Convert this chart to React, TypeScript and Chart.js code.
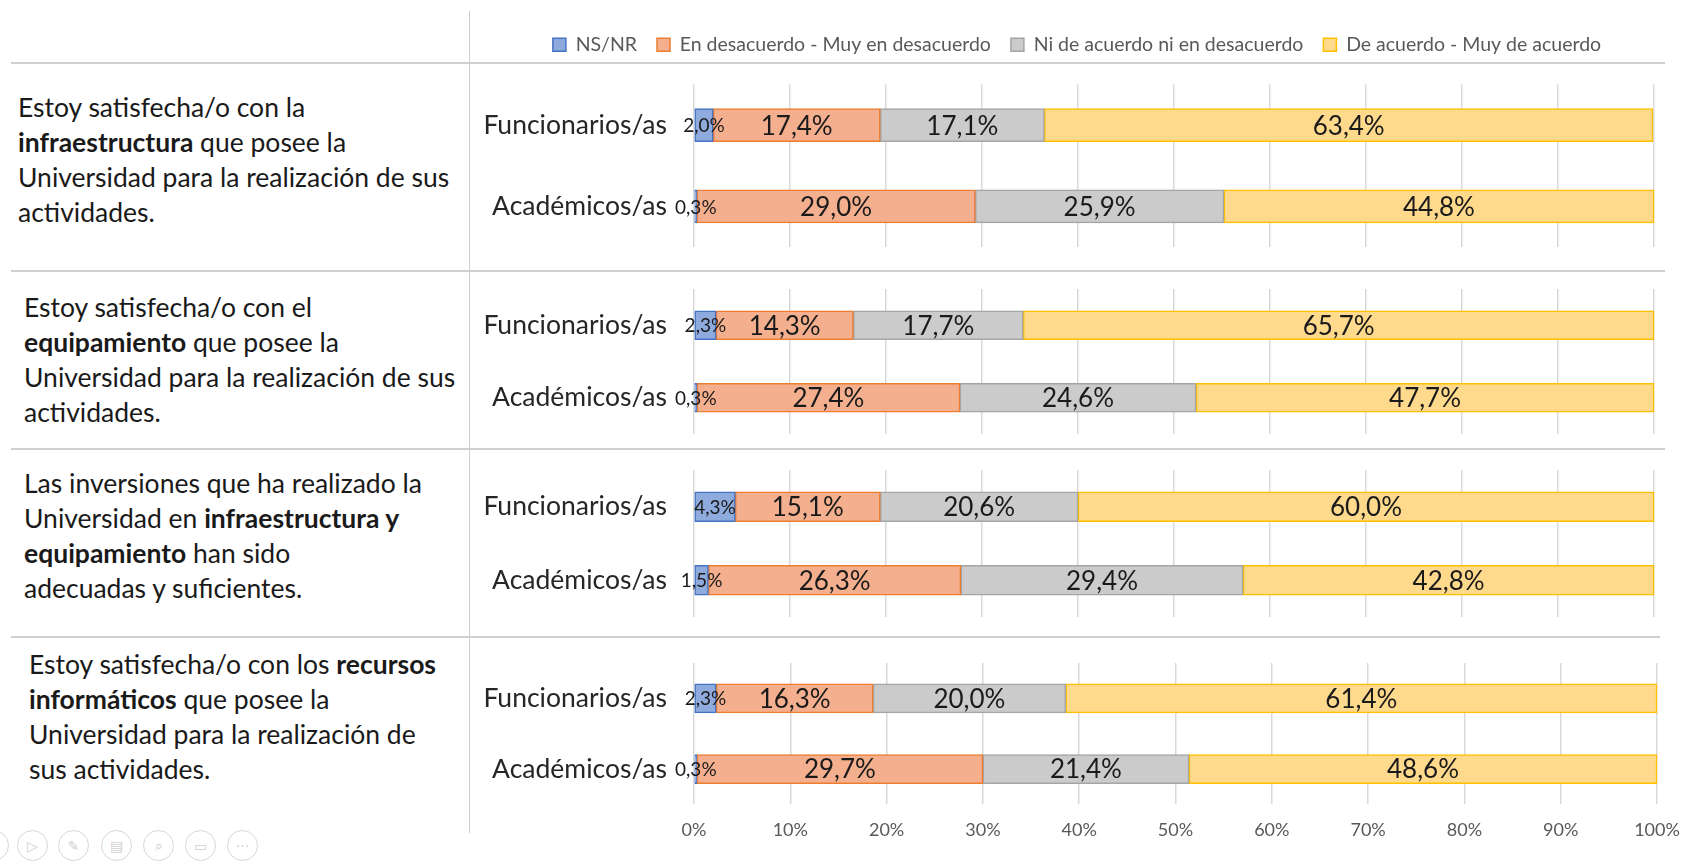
import React, { useEffect, useRef } from "react";
import { Chart, registerables } from "chart.js";

Chart.register(...registerables);

// ---------- DATA ----------
const groups = ["Funcionarios/as", "Académicos/as"];
const seriesNames = [
  "NS/NR",
  "En desacuerdo - Muy en desacuerdo",
  "Ni de acuerdo ni en desacuerdo",
  "De acuerdo - Muy de acuerdo",
];
const xTickValues = [0, 10, 20, 30, 40, 50, 60, 70, 80, 90, 100];

// Question 1: infraestructura
const q1NsNr = [2.0, 0.3];
const q1Desacuerdo = [17.4, 29.0];
const q1Neutral = [17.1, 25.9];
const q1Acuerdo = [63.4, 44.8];
// Question 2: equipamiento
const q2NsNr = [2.3, 0.3];
const q2Desacuerdo = [14.3, 27.4];
const q2Neutral = [17.7, 24.6];
const q2Acuerdo = [65.7, 47.7];
// Question 3: inversiones
const q3NsNr = [4.3, 1.5];
const q3Desacuerdo = [15.1, 26.3];
const q3Neutral = [20.6, 29.4];
const q3Acuerdo = [60.0, 42.8];
// Question 4: recursos informáticos
const q4NsNr = [2.3, 0.3];
const q4Desacuerdo = [16.3, 29.7];
const q4Neutral = [20.0, 21.4];
const q4Acuerdo = [61.4, 48.6];

// ---------- STYLE ----------
const fills = ["#8FAADC", "#F4B08E", "#CBCBCB", "#FFD98C"];
const borders = ["#4472C4", "#ED7D31", "#A5A5A5", "#FFC000"];
const FONT = "Lato, 'Open Sans', sans-serif";

const fmt = (v: number) => v.toFixed(1).replace(".", ",") + "%";

const labelPlugin = {
  id: "barLabels",
  afterDatasetsDraw(chart: any) {
    const ctx = chart.ctx;
    chart.data.datasets.forEach((ds: any, di: number) => {
      const meta = chart.getDatasetMeta(di);
      meta.data.forEach((el: any, i: number) => {
        const v = ds.data[i];
        const p = el.getProps(["x", "y", "base"], true);
        ctx.save();
        ctx.font = `${di === 0 ? 19 : 26}px ${FONT}`;
        ctx.fillStyle = "#1a1a1a";
        ctx.textAlign = "center";
        ctx.textBaseline = "middle";
        ctx.fillText(fmt(v), (p.x + p.base) / 2, p.y + 1);
        ctx.restore();
      });
    });
  },
};

const LEGEND_GAP = 20;
const LEGEND_SHIFT = 15;
const legendSpacer = {
  id: "legendSpacer",
  beforeUpdate(chart: any) {
    const lg = chart.legend;
    if (lg && !lg.__patched) {
      const orig = lg.fit;
      lg.fit = function () {
        orig.call(this);
        if (this.options && this.options.display) this.height += LEGEND_GAP;
      };
      lg.__patched = true;
    }
  },
  afterLayout(chart: any) {
    const lg = chart.legend;
    if (lg && lg.options && lg.options.display) {
      lg.left += LEGEND_SHIFT;
      lg.right += LEGEND_SHIFT;
    }
  },
};

type Props = {
  top: number;
  height: number;
  values: number[][];
  showLegend?: boolean;
  showTicks?: boolean;
  barThickness: number;
  padTop: number;
  padBottom: number;
  padRight: number;
};

const CANVAS_LEFT = 470;
const CANVAS_WIDTH = 1220;
const Y_AXIS_WIDTH = 224;

function BarChart(props: Props) {
  const ref = useRef<HTMLCanvasElement | null>(null);
  useEffect(() => {
    if (!ref.current) return;
    const chart = new Chart(ref.current, {
      type: "bar",
      data: {
        labels: groups,
        datasets: props.values.map((vals, i) => ({
          label: seriesNames[i],
          data: vals,
          backgroundColor: fills[i],
          borderColor: borders[i],
          borderWidth: 1.5,
          borderSkipped: false,
          barThickness: props.barThickness,
          clip: false as any,
        })),
      },
      options: {
        indexAxis: "y",
        responsive: false,
        maintainAspectRatio: false,
        animation: false,
        layout: {
          padding: { top: props.padTop, bottom: props.padBottom, right: props.padRight, left: 0 },
        },
        plugins: {
          legend: {
            display: !!props.showLegend,
            position: "top",
            labels: {
              boxWidth: 13,
              boxHeight: 13,
              padding: 20,
              color: "#595959",
              font: { family: FONT, size: 19.5 },
            },
          },
          tooltip: { enabled: false },
        },
        scales: {
          x: {
            stacked: true,
            min: 0,
            max: 100,
            afterBuildTicks: (scale: any) => {
              scale.ticks = xTickValues.map((v) => ({ value: v }));
            },
            afterFit: (scale: any) => {
              scale.paddingLeft = 0;
              scale.paddingRight = 0;
            },
            ticks: {
              display: !!props.showTicks,
              callback: (v: any) => v + "%",
              color: "#595959",
              font: { family: FONT, size: 18 },
              padding: 15,
            },
            grid: { color: "#d9d9d9", lineWidth: 1.5, drawTicks: false },
            border: { display: false },
          },
          y: {
            stacked: true,
            afterFit: (scale: any) => {
              scale.width = Y_AXIS_WIDTH;
              scale.paddingTop = 0;
              scale.paddingBottom = 0;
            },
            ticks: {
              color: "#262626",
              font: { family: FONT, size: 26.5 },
              padding: 27,
            },
            grid: { display: false, drawTicks: false },
            border: { display: false },
          },
        },
      },
      plugins: [labelPlugin, legendSpacer],
    });
    return () => chart.destroy();
  }, []);
  return (
    <canvas
      ref={ref}
      width={CANVAS_WIDTH}
      height={props.height}
      style={{ position: "absolute", left: CANVAS_LEFT, top: props.top, width: CANVAS_WIDTH, height: props.height }}
    />
  );
}

const textStyle: React.CSSProperties = {
  position: "absolute",
  fontFamily: FONT,
  fontSize: 26.5,
  lineHeight: "35px",
  color: "#1a1a1a",
  whiteSpace: "nowrap",
};

const hLine = (top: number, right: number): React.CSSProperties => ({
  position: "absolute",
  left: 11,
  top,
  width: right - 11,
  height: 0,
  borderTop: "2px solid #cfcfcf",
});

const iconX = [-6, 33, 74, 117, 159, 201, 243];
const iconGlyphs = ["", "▷", "✎", "▤", "⌕", "▭", "···"];

export default function App() {
  return (
    <div
      style={{
        position: "relative",
        width: 1701,
        height: 862,
        background: "#ffffff",
        overflow: "hidden",
        fontFamily: FONT,
      }}
    >
      <style>{`body{margin:0;background:#fff}`}</style>

      {/* table lines */}
      <div style={{ position: "absolute", left: 469, top: 11, width: 0, height: 822, borderLeft: "1.5px solid #cfcfcf" }} />
      <div style={hLine(62, 1665)} />
      <div style={hLine(270, 1665)} />
      <div style={hLine(448, 1665)} />
      <div style={hLine(636, 1660)} />

      {/* left text */}
      <div style={{ ...textStyle, left: 18, top: 90 }}>
        Estoy satisfecha/o con la
        <br />
        <b>infraestructura</b> que posee la
        <br />
        Universidad para la realización de sus
        <br />
        actividades.
      </div>
      <div style={{ ...textStyle, left: 24, top: 290 }}>
        Estoy satisfecha/o con el
        <br />
        <b>equipamiento</b> que posee la
        <br />
        Universidad para la realización de sus
        <br />
        actividades.
      </div>
      <div style={{ ...textStyle, left: 24, top: 466 }}>
        Las inversiones que ha realizado la
        <br />
        Universidad en <b>infraestructura y</b>
        <br />
        <b>equipamiento</b> han sido
        <br />
        adecuadas y suficientes.
      </div>
      <div style={{ ...textStyle, left: 29, top: 647 }}>
        Estoy satisfecha/o con los <b>recursos</b>
        <br />
        <b>informáticos</b> que posee la
        <br />
        Universidad para la realización de
        <br />
        sus actividades.
      </div>

      {/* charts */}
      <BarChart
        top={15}
        height={235}
        values={[q1NsNr, q1Desacuerdo, q1Neutral, q1Acuerdo]}
        showLegend
        barThickness={33}
        padTop={0}
        padBottom={3}
        padRight={36}
      />
      <BarChart
        top={286}
        height={151}
        values={[q2NsNr, q2Desacuerdo, q2Neutral, q2Acuerdo]}
        barThickness={29}
        padTop={3}
        padBottom={3}
        padRight={36}
      />
      <BarChart
        top={467}
        height={153}
        values={[q3NsNr, q3Desacuerdo, q3Neutral, q3Acuerdo]}
        barThickness={30}
        padTop={3}
        padBottom={3}
        padRight={36}
      />
      <BarChart
        top={660}
        height={201}
        values={[q4NsNr, q4Desacuerdo, q4Neutral, q4Acuerdo]}
        showTicks
        barThickness={29}
        padTop={3}
        padBottom={5}
        padRight={33}
      />

      {/* faint slideshow controls */}
      {iconX.map((x, i) => (
        <div
          key={i}
          style={{
            position: "absolute",
            left: x - 16,
            top: 830,
            width: 31,
            height: 31,
            borderRadius: "50%",
            border: "1.5px solid #d8d8d8",
            color: "#d0d0d0",
            fontFamily: "'DejaVu Sans', sans-serif",
            fontSize: 14,
            lineHeight: "31px",
            textAlign: "center",
            boxSizing: "border-box",
          }}
        >
          {iconGlyphs[i]}
        </div>
      ))}
    </div>
  );
}
